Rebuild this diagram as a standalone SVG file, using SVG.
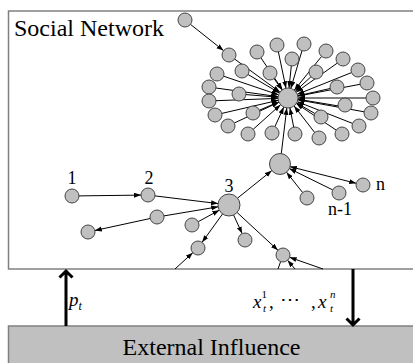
<svg xmlns="http://www.w3.org/2000/svg" width="413" height="363" viewBox="0 0 413 363">
<style>
.n{fill:#c0c0c0;stroke:#444;stroke-width:1}
.e{stroke:#000;stroke-width:1;fill:none;marker-end:url(#ah)}
.p{stroke:#000;stroke-width:1;fill:none}
.b{stroke:#000;stroke-width:3;fill:none}
text{font-family:"Liberation Serif","Times New Roman",Tinos,"DejaVu Serif","Noto Serif",serif;fill:#000}
.m{font-style:italic}
</style>
<defs>
<marker id="ah" markerUnits="userSpaceOnUse" markerWidth="8" markerHeight="6" refX="7" refY="2.5" orient="auto-start-reverse"><path d="M0,0 L7,2.5 L0,5 z" fill="#000"/></marker>
</defs>
<rect x="8.5" y="11" width="420" height="258" fill="#fff" stroke="#808080" stroke-width="1.5"/>
<rect x="8.5" y="326" width="420" height="50" fill="#c0c0c0" stroke="#808080" stroke-width="1.5"/>
<text x="14" y="36" font-size="24">Social Network</text>
<text x="211.5" y="355" font-size="24" text-anchor="middle">External Influence</text>
<g id="connectors">
<line class="e" x1="234.7" y1="59.1" x2="279.9" y2="92.1"/>
<line class="e" x1="223.6" y1="76.2" x2="278.5" y2="94.8"/>
<line class="e" x1="215.9" y1="88" x2="278.1" y2="96.6"/>
<line class="e" x1="216" y1="100.7" x2="278" y2="98.4"/>
<line class="e" x1="221.8" y1="113.4" x2="278.3" y2="100.3"/>
<line class="e" x1="234.3" y1="123" x2="278.9" y2="102.2"/>
<line class="e" x1="253.2" y1="129.3" x2="280.6" y2="104.7"/>
<line class="e" x1="274.9" y1="126.6" x2="283.8" y2="107.1"/>
<line class="e" x1="293.7" y1="127.1" x2="289.9" y2="107.8"/>
<line class="e" x1="314.7" y1="132.5" x2="294.1" y2="105.9"/>
<line class="e" x1="336.2" y1="130.1" x2="296.3" y2="103.5"/>
<line class="e" x1="352.5" y1="123.4" x2="297.3" y2="101.7"/>
<line class="e" x1="364.1" y1="111.8" x2="297.8" y2="99.8"/>
<line class="e" x1="366" y1="98" x2="298" y2="98"/>
<line class="e" x1="360.1" y1="84.3" x2="297.8" y2="96.1"/>
<line class="e" x1="351.5" y1="72.6" x2="297.3" y2="94.3"/>
<line class="e" x1="337.3" y1="63.1" x2="296.2" y2="92.2"/>
<line class="e" x1="321.6" y1="56.4" x2="294.3" y2="90.2"/>
<line class="e" x1="302" y1="50.7" x2="290.8" y2="88.4"/>
<line class="e" x1="278.4" y1="51.9" x2="286" y2="88.2"/>
<line class="e" x1="260.9" y1="57.8" x2="282.4" y2="89.7"/>
<line class="e" x1="248" y1="74.5" x2="279.4" y2="92.9"/>
<line class="e" x1="246" y1="94.6" x2="278" y2="97.2"/>
<line class="e" x1="259.4" y1="110.2" x2="278.8" y2="101.9"/>
<line class="e" x1="274.1" y1="78.7" x2="282.2" y2="89.9"/>
<line class="e" x1="291.3" y1="66" x2="289" y2="88.1"/>
<line class="e" x1="310.9" y1="76.8" x2="295.3" y2="91.2"/>
<line class="e" x1="330.2" y1="88.5" x2="297.8" y2="95.8"/>
<line class="e" x1="338" y1="105.9" x2="297.9" y2="99.2"/>
<line class="e" x1="314.9" y1="113.5" x2="296.7" y2="103"/>
<line class="e" x1="281.3" y1="153.6" x2="286.8" y2="107.9"/>
<line class="e" x1="190.5" y1="24.4" x2="223.5" y2="50.6"/>
<line class="e" x1="79" y1="195.9" x2="141" y2="195.1"/>
<line class="e" x1="155" y1="195.9" x2="218.1" y2="203.6"/>
<line class="e" x1="163.9" y1="215.9" x2="218.2" y2="206.8"/>
<line class="e" x1="150.2" y1="218.5" x2="94.8" y2="230.5"/>
<line class="e" x1="198.2" y1="221.7" x2="219.3" y2="210.2"/>
<line class="e" x1="222.6" y1="213.9" x2="202.1" y2="242.3"/>
<line class="e" x1="175" y1="269" x2="192.8" y2="252.7"/>
<line class="e" x1="233.6" y1="215" x2="242.1" y2="233.6"/>
<line class="e" x1="237.1" y1="212.5" x2="277.9" y2="250.2"/>
<line class="p" x1="278" y1="269" x2="280.6" y2="261.6"/>
<line class="e" x1="295" y1="269" x2="287.6" y2="260.3"/>
<line class="e" x1="323" y1="269" x2="289.6" y2="257.3"/>
<line class="e" x1="237.6" y1="198.1" x2="271.8" y2="170.6"/>
<line class="e" x1="302.6" y1="192.5" x2="286.5" y2="172.2"/>
<line class="e" x1="332.7" y1="189.9" x2="289.4" y2="168.6"/>
<line class="e" x1="289.8" y1="166.6" x2="356.2" y2="183.3" marker-start="url(#ah)"/>
<path class="b" d="M66,326 V271 M59.5,277.5 L66,271 L72.5,277.5"/>
<path class="b" d="M353,269 V325 M346.5,318.5 L353,325 L359.5,318.5"/>
</g>
<g id="hub"><circle class="n" cx="288" cy="98" r="10"/></g>
<g id="star">
<circle class="n" cx="229" cy="55" r="7"/>
<circle class="n" cx="217" cy="74" r="7"/>
<circle class="n" cx="209" cy="87" r="7"/>
<circle class="n" cx="209" cy="101" r="7"/>
<circle class="n" cx="215" cy="115" r="7"/>
<circle class="n" cx="228" cy="126" r="7"/>
<circle class="n" cx="248" cy="134" r="7"/>
<circle class="n" cx="272" cy="133" r="7"/>
<circle class="n" cx="295" cy="134" r="7"/>
<circle class="n" cx="319" cy="138" r="7"/>
<circle class="n" cx="342" cy="134" r="7"/>
<circle class="n" cx="359" cy="126" r="7"/>
<circle class="n" cx="371" cy="113" r="7"/>
<circle class="n" cx="373" cy="98" r="7"/>
<circle class="n" cx="367" cy="83" r="7"/>
<circle class="n" cx="358" cy="70" r="7"/>
<circle class="n" cx="343" cy="59" r="7"/>
<circle class="n" cx="326" cy="51" r="7"/>
<circle class="n" cx="304" cy="44" r="7"/>
<circle class="n" cx="277" cy="45" r="7"/>
<circle class="n" cx="257" cy="52" r="7"/>
<circle class="n" cx="242" cy="71" r="7"/>
<circle class="n" cx="239" cy="94" r="7"/>
<circle class="n" cx="253" cy="113" r="7"/>
<circle class="n" cx="270" cy="73" r="7"/>
<circle class="n" cx="292" cy="59" r="7"/>
<circle class="n" cx="316" cy="72" r="7"/>
<circle class="n" cx="337" cy="87" r="7"/>
<circle class="n" cx="345" cy="105" r="7"/>
<circle class="n" cx="321" cy="117" r="7"/>
</g>
<g id="top"><circle class="n" cx="185" cy="20" r="7"/></g>
<g id="node1"><circle class="n" cx="72" cy="196" r="7"/><text x="72" y="184" font-size="18" text-anchor="middle">1</text></g>
<g id="node2"><circle class="n" cx="148" cy="195" r="7"/><text x="149" y="184" font-size="18" text-anchor="middle">2</text></g>
<g id="node3"><circle class="n" cx="229" cy="205" r="11"/><text x="229" y="192" font-size="18" text-anchor="middle">3</text></g>
<g id="nodeA"><circle class="n" cx="157" cy="217" r="7"/></g>
<g id="nodeB"><circle class="n" cx="88" cy="232" r="7"/></g>
<g id="nodeC"><circle class="n" cx="192" cy="225" r="7"/></g>
<g id="nodeD"><circle class="n" cx="198" cy="248" r="7"/></g>
<g id="nodeE"><circle class="n" cx="245" cy="240" r="7"/></g>
<g id="nodeF"><circle class="n" cx="283" cy="255" r="7"/></g>
<g id="hub2"><circle class="n" cx="280" cy="164" r="10.5"/></g>
<g id="nodeG"><circle class="n" cx="307" cy="198" r="7"/></g>
<g id="nodeN1"><circle class="n" cx="339" cy="193" r="7"/><text x="340" y="215" font-size="18" text-anchor="middle">n-1</text></g>
<g id="nodeN"><circle class="n" cx="363" cy="185" r="7"/><text x="376" y="190" font-size="18">n</text></g>
<g id="labels">
<text class="m" x="69" y="306" font-size="19">p<tspan font-size="12" dy="4">t</tspan></text>
<text class="m" x="253" y="308" font-size="19">x<tspan font-style="normal" font-size="11" dy="-10">1</tspan><tspan font-size="11" x="263" dy="14">t</tspan><tspan font-style="normal" x="269" dy="-4">,</tspan></text>
<text x="280" y="306" font-size="19" textLength="20" lengthAdjust="spacingAndGlyphs">⋯</text>
<text class="m" x="311" y="308" font-size="19"><tspan font-style="normal">,</tspan><tspan x="318">x</tspan><tspan font-size="11" x="330" dy="-10">n</tspan><tspan font-size="11" x="330" dy="14">t</tspan></text>
</g>
</svg>
